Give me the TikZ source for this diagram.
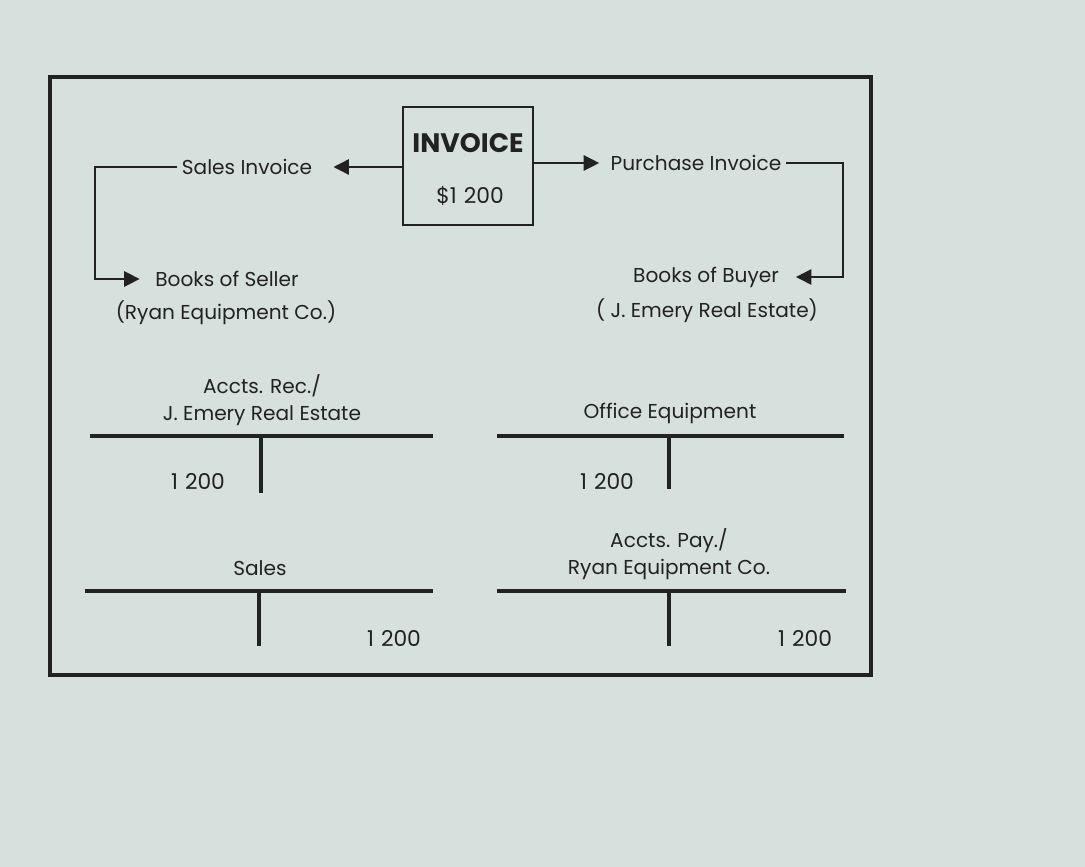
\documentclass[tikz,border=0pt]{standalone}
\usepackage{fontspec}
\setmainfont{Poppins}
\usetikzlibrary{arrows.meta}
\definecolor{paper}{RGB}{214,224,221}
\definecolor{ink}{RGB}{34,34,34}
\newcommand{\amount}{1\hspace{0.32em}200}

\begin{document}
\begin{tikzpicture}[
    x=0.025cm, y=-0.025cm,
    lbl/.style={inner xsep=3pt, inner ysep=1pt, text=ink, font=\fontsize{14.3}{19.5}\selectfont},
    title/.style={lbl, align=center},
    num/.style={lbl, font=\fontsize{15.5}{19}\selectfont},
    flow/.style={-{Triangle[length=11pt, width=11pt]}, ink, line width=1pt},
    tline/.style={ink, line width=2.2pt}
]
    \useasboundingbox[fill=paper] (0,0) rectangle (1085,867);
    \draw[ink, line width=2.2pt] (50,77) rectangle (871,675);

    % invoice and where it goes
    \node[draw=ink, line width=0.9pt, minimum width=130*0.025cm, minimum height=118*0.025cm] (inv) at (468,166) {};
    \node[lbl, font=\fontsize{19}{19}\bfseries] (ttl) at (468,143) {INVOICE};
    \node[num] (amt) at (470,196) {\$\amount};
    \node[lbl] (si) at (247,167) {Sales Invoice};
    \node[lbl] (pi) at (696,163) {Purchase Invoice};
    \node[lbl] (bs) at (227,279) {Books of Seller};
    \node[lbl] (bsname) at (226,313) {(Ryan Equipment Co.)};
    \node[lbl] (bb) at (706,277) {Books of Buyer};
    \node[lbl] (bbname) at (707,311) {( J. Emery Real Estate)};
    \coordinate (lcorner) at (95,220);
    \coordinate (rcorner) at (843,220);

    \draw[flow] (inv.west |- si) -- ([xshift=12pt]si.east);
    \draw[flow] (si.west) -| (lcorner) |- ([xshift=-8pt]bs.west);
    \draw[flow] (inv.east |- pi) -- ([xshift=-5pt]pi.west);
    \draw[flow] (pi.east) -| (rcorner) |- ([xshift=9pt]bb.east);

    % T accounts
    \node[title] (rec) at (262,400) {Accts. Rec./\\J. Emery Real Estate};
    \node[title] (equip) at (670,413) {Office Equipment};
    \node[title] (sales) at (260,568) {Sales};
    \node[title] (pay) at (669,554) {Accts. Pay./\\Ryan Equipment Co.};
    \node[num] (recamt) at (198,481) {\amount};
    \node[num] (equipamt) at (607,481) {\amount};
    \node[num] (salesamt) at (394,638) {\amount};
    \node[num] (payamt) at (805,638) {\amount};

    \draw[tline] (90,436) -- (433,436) (261,436) -- (261,493);
    \draw[tline] (497,436) -- (844,436) (669,436) -- (669,489);
    \draw[tline] (85,591) -- (433,591) (259,591) -- (259,646);
    \draw[tline] (497,591) -- (846,591) (669,591) -- (669,646);
\end{tikzpicture}
\end{document}
